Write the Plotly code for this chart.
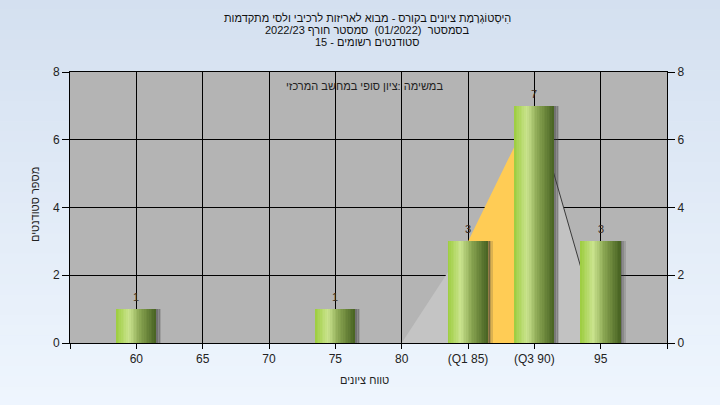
import plotly.graph_objects as go

# ---------------- data ----------------
categories = ["60", "65", "70", "75", "80", "(Q1 85)", "(Q3 90)", "95"]
counts = [1, 0, 0, 1, 0, 3, 7, 3]
curve_cats = ["80", "(Q1 85)", "(Q3 90)", "95"]
curve_vals = [0, 3, 7, 0.2]
y_ticks = [0, 2, 4, 6, 8]

title_lines = [
    "הִיסְטוֹגְרָמַת ציונים בקורס - מבוא לאריזות לרכיבי ולסי מתקדמות",
    "בסמסטר  (01/2022)  סמסטר חורף 2022/23",
    "סטודנטים רשומים - 15",
]
subtitle = "במשימה :ציון סופי במחשב המרכזי"
x_title = "טווח ציונים"
y_title = "מספר סטודנטים"

# ---------------- helpers ----------------
idx = {c: i for i, c in enumerate(categories)}
xs = list(range(len(categories)))
bar_x = [i for i, v in zip(xs, counts) if v > 0]
bar_y = [v for v in counts if v > 0]
cx = [idx[c] for c in curve_cats]

def lerp(c1, c2, t):
    return tuple(round(a + (b - a) * t) for a, b in zip(c1, c2))

stops = [(0.0, (156, 204, 62)), (0.32, (202, 228, 142)), (0.6, (138, 166, 82)), (1.0, (72, 98, 34))]

def grad(t):
    for (p1, c1), (p2, c2) in zip(stops[:-1], stops[1:]):
        if t <= p2:
            return lerp(c1, c2, (t - p1) / (p2 - p1))
    return stops[-1][1]

fig = go.Figure()

# area polygon (behind bars) on base axes
fig.add_trace(go.Scatter(x=cx[0:2], y=curve_vals[0:2], mode="lines", fill="tozeroy",
                         fillcolor="#C4C4C4", line=dict(width=0), hoverinfo="skip", showlegend=False))
fig.add_trace(go.Scatter(x=cx[1:3], y=curve_vals[1:3], mode="lines", fill="tozeroy",
                         fillcolor="#FFCC55", line=dict(width=0), hoverinfo="skip", showlegend=False))
fig.add_trace(go.Scatter(x=cx[2:4], y=curve_vals[2:4], mode="lines", fill="tozeroy",
                         fillcolor="#C2C2C2", line=dict(width=1, color="#3a3a3a"), hoverinfo="skip", showlegend=False))

# bars on overlay axis (drawn above area)
bw = 0.6
for k, a in enumerate([0.55, 0.35, 0.18]):
    fig.add_trace(go.Bar(x=bar_x, y=bar_y, yaxis="y2", width=0.03, offset=bw / 2 + k * 0.025 - 0.005,
                         marker=dict(color=f"rgba(60,60,60,{a})", line=dict(width=0)),
                         hoverinfo="skip", showlegend=False))
N = 24
sw = bw / N
for i in range(N):
    r, g, b = grad((i + 0.5) / N)
    fig.add_trace(go.Bar(x=bar_x, y=bar_y, yaxis="y2", width=sw * 1.15, offset=-bw / 2 + i * sw,
                         marker=dict(color=f"rgb({r},{g},{b})", line=dict(width=0)),
                         hoverinfo="skip", showlegend=False))

# ---------------- background ----------------
shapes = []
top = (212, 224, 240)
bot = (239, 246, 254)
y0p, y1p = -0.235, 1.27
NB = 40
for i in range(NB):
    t = i / NB
    c = lerp(top, bot, t)
    ya = y1p - (y1p - y0p) * i / NB
    yb = y1p - (y1p - y0p) * (i + 1) / NB - 0.002
    shapes.append(dict(type="rect", xref="paper", yref="paper", x0=-0.15, x1=1.15, y0=yb, y1=ya,
                       fillcolor=f"rgb({c[0]},{c[1]},{c[2]})", line=dict(width=0), layer="below"))
shapes.append(dict(type="rect", xref="paper", yref="paper", x0=0, x1=1, y0=0, y1=1,
                   fillcolor="#B4B4B4", line=dict(width=0), layer="below"))

# ---------------- annotations ----------------
ann = []
for j, line in enumerate(title_lines):
    ann.append(dict(text=line, xref="paper", yref="paper", x=0.4975, y=(343 - (18 + 12 * j)) / 271,
                    showarrow=False, xanchor="center", yanchor="middle",
                    font=dict(size=11, color="#111111")))
ann.append(dict(text=subtitle, xref="paper", yref="paper", x=0.494, y=(343 - 86) / 271, showarrow=False,
                xanchor="center", yanchor="middle", font=dict(size=11, color="#222222")))
ann.append(dict(text=x_title, xref="paper", yref="paper", x=0.494, y=(343 - 380) / 271, showarrow=False,
                xanchor="center", yanchor="middle", font=dict(size=11, color="#222222")))
ann.append(dict(text=y_title, xref="paper", yref="paper", x=(35 - 70) / 597, y=(343 - 205) / 271,
                showarrow=False, textangle=-90, xanchor="center", yanchor="middle",
                font=dict(size=11, color="#222222")))
# value labels above bars
for bx, by in zip(bar_x, bar_y):
    ann.append(dict(text=str(by), xref="x", yref="y2", x=bx, y=by, yshift=12, showarrow=False,
                    xanchor="center", yanchor="middle", font=dict(size=11, color="#3a2a1a")))

tickfont = dict(family="Liberation Sans, Arial, sans-serif", size=12, color="#222222")

fig.update_layout(
    width=720, height=405,
    margin=dict(l=70, r=53, t=72, b=62),
    paper_bgcolor="#E4ECF7",
    plot_bgcolor="rgba(0,0,0,0)",
    font=dict(family="Liberation Sans, Arial, sans-serif"),
    barmode="overlay",
    bargap=0,
    showlegend=False,
    shapes=shapes,
    annotations=ann,
    xaxis=dict(range=[-1, 8], tickmode="array", tickvals=[-1] + xs + [8], ticktext=[""] + categories + [""],
               showgrid=True, gridcolor="#000000", gridwidth=1, showline=True, linecolor="#000000",
               linewidth=1, mirror=True, ticks="outside", ticklen=5, tickcolor="#000000",
               tickfont=tickfont, zeroline=False, fixedrange=True),
    yaxis=dict(range=[0, 8], tickmode="array", tickvals=y_ticks, showgrid=True, gridcolor="#000000",
               gridwidth=1, showline=True, linecolor="#000000", linewidth=1, ticks="outside", ticklen=7,
               tickcolor="#000000", tickfont=tickfont, zeroline=False, fixedrange=True),
    yaxis2=dict(range=[0, 8], overlaying="y", side="right", tickmode="array", tickvals=y_ticks,
                showgrid=False, showline=True, linecolor="#000000", linewidth=1, ticks="outside",
                ticklen=7, tickcolor="#000000", tickfont=tickfont, zeroline=False, fixedrange=True),
)

fig.write_html("out.html", config={"displayModeBar": False},
               post_script="document.body.style.margin='0';document.body.style.padding='0';")
